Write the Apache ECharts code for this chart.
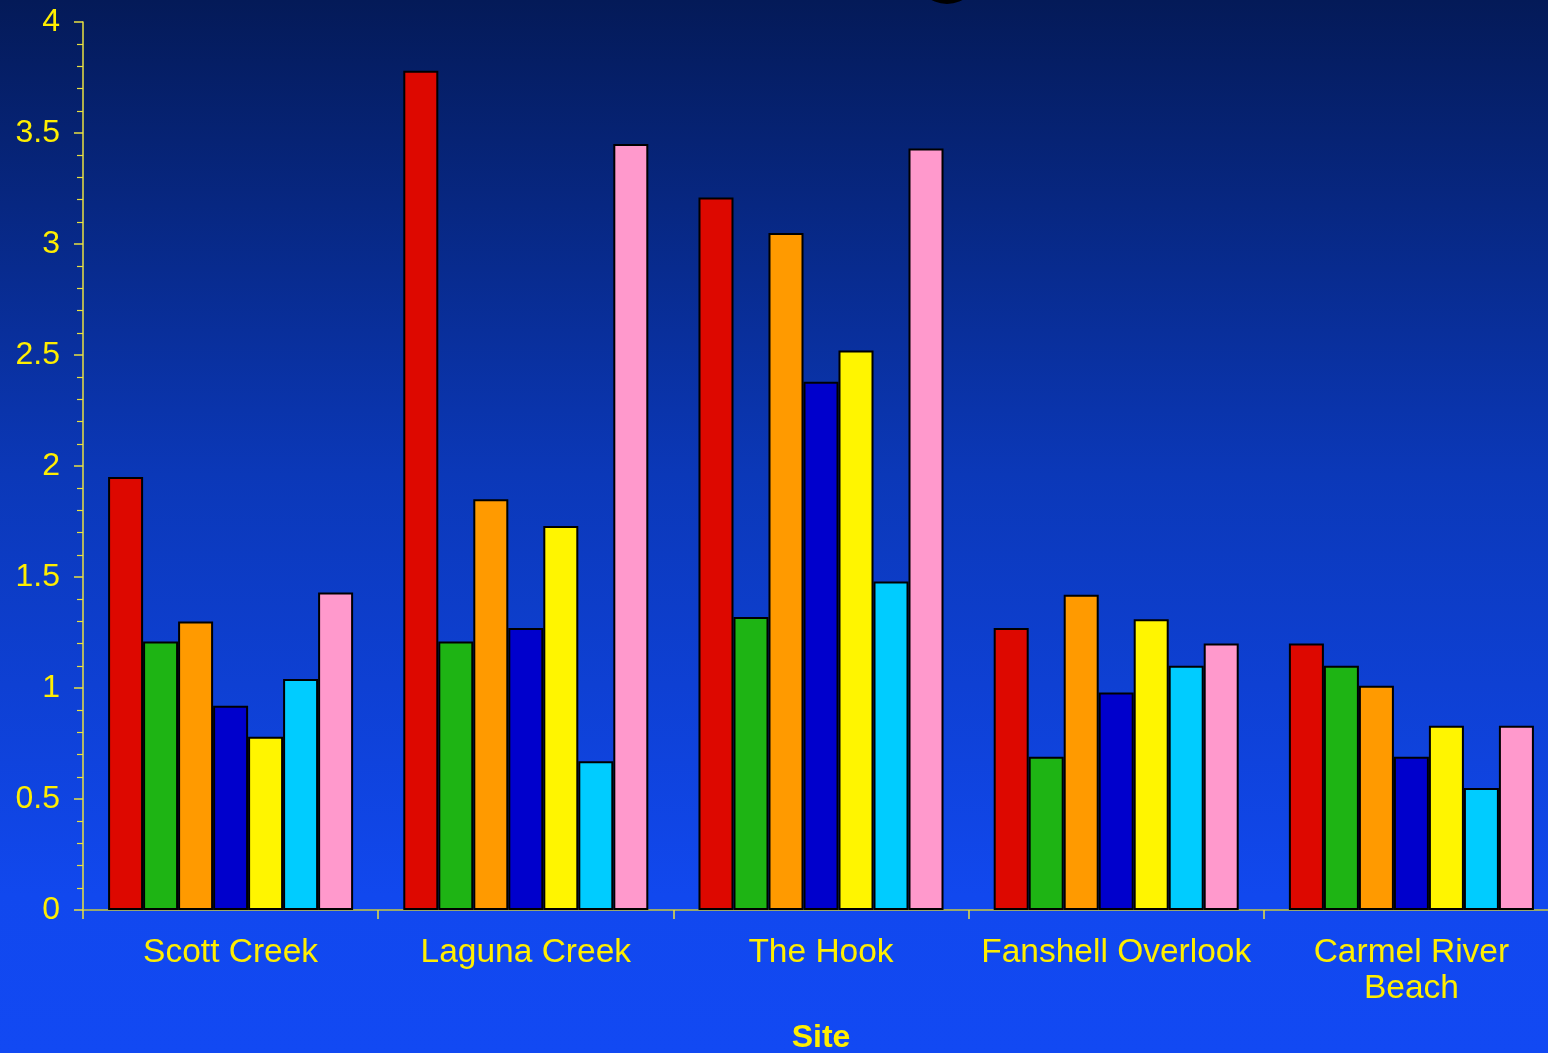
<!DOCTYPE html>
<html>
<head>
<meta charset="utf-8">
<script src="https://cdn.jsdelivr.net/npm/echarts@6/dist/echarts.min.js"></script>
<style>
html,body{margin:0;padding:0;width:1548px;height:1053px;overflow:hidden;}
#c{width:1548px;height:1053px;}
</style>
</head>
<body>
<div id="c"></div>
<script>
var categories = ['Scott Creek', 'Laguna Creek', 'The Hook', 'Fanshell Overlook', 'Carmel River\nBeach'];
var s1 = [1.95, 3.78, 3.21, 1.27, 1.20];
var s2 = [1.21, 1.21, 1.32, 0.69, 1.10];
var s3 = [1.30, 1.85, 3.05, 1.42, 1.01];
var s4 = [0.92, 1.27, 2.38, 0.98, 0.69];
var s5 = [0.78, 1.73, 2.52, 1.31, 0.83];
var s6 = [1.04, 0.67, 1.48, 1.10, 0.55];
var s7 = [1.43, 3.45, 3.43, 1.20, 0.83];
var seriesData = [s1, s2, s3, s4, s5, s6, s7];
var colors = ['#dd0800', '#1eb414', '#ff9a00', '#0000cc', '#fff500', '#00ccff', '#ff99cc'];
var yTicks = { min: 0, max: 4, interval: 0.5 };

var chart = echarts.init(document.getElementById('c'));
var yellow = '#ffee00';
var option = {
  backgroundColor: {
    type: 'linear', x: 0, y: 0, x2: 0, y2: 1,
    colorStops: [
      { offset: 0, color: '#041a58' },
      { offset: 0.45, color: '#0b38b8' },
      { offset: 0.85, color: '#1148ee' },
      { offset: 1, color: '#1249f3' }
    ]
  },
  animation: false,
  grid: { left: 83, top: 22, width: 1476, height: 888, containLabel: false, outerBoundsMode: 'none' },
  xAxis: {
    type: 'category',
    data: categories,
    name: 'Site',
    nameLocation: 'middle',
    nameGap: 112,
    nameTextStyle: { color: yellow, fontSize: 32, fontWeight: 'bold', fontFamily: 'Liberation Sans' },
    axisLine: { show: true, lineStyle: { color: '#c8c840', width: 1.5 } },
    axisTick: { show: true, alignWithLabel: false, length: 9, lineStyle: { color: '#e8e040', width: 1.5 } },
    axisLabel: { color: yellow, fontSize: 33.5, fontFamily: 'Liberation Sans', margin: 25, lineHeight: 36, interval: 0 }
  },
  yAxis: {
    type: 'value',
    min: yTicks.min, max: yTicks.max, interval: yTicks.interval,
    axisLine: { show: true, lineStyle: { color: '#e8e040', width: 1.5 } },
    axisTick: { show: true, length: 9, lineStyle: { color: '#e8e040', width: 1.5 } },
    minorTick: { show: true, splitNumber: 5, length: 6, lineStyle: { color: '#e8e040', width: 1.2 } },
    splitLine: { show: false },
    axisLabel: { color: yellow, fontSize: 32, fontFamily: 'Liberation Sans', margin: 23 }
  },
  series: seriesData.map(function (d, i) {
    return {
      type: 'bar',
      data: d,
      barGap: '0%',
      barCategoryGap: '17%',
      itemStyle: { color: colors[i], borderColor: '#000000', borderWidth: 2 }
    };
  }),
  graphic: [{
    type: 'circle',
    shape: { cx: 947, cy: -28, r: 32 },
    style: { fill: '#000000' },
    z: 100
  }]
};
chart.setOption(option);
</script>
</body>
</html>
